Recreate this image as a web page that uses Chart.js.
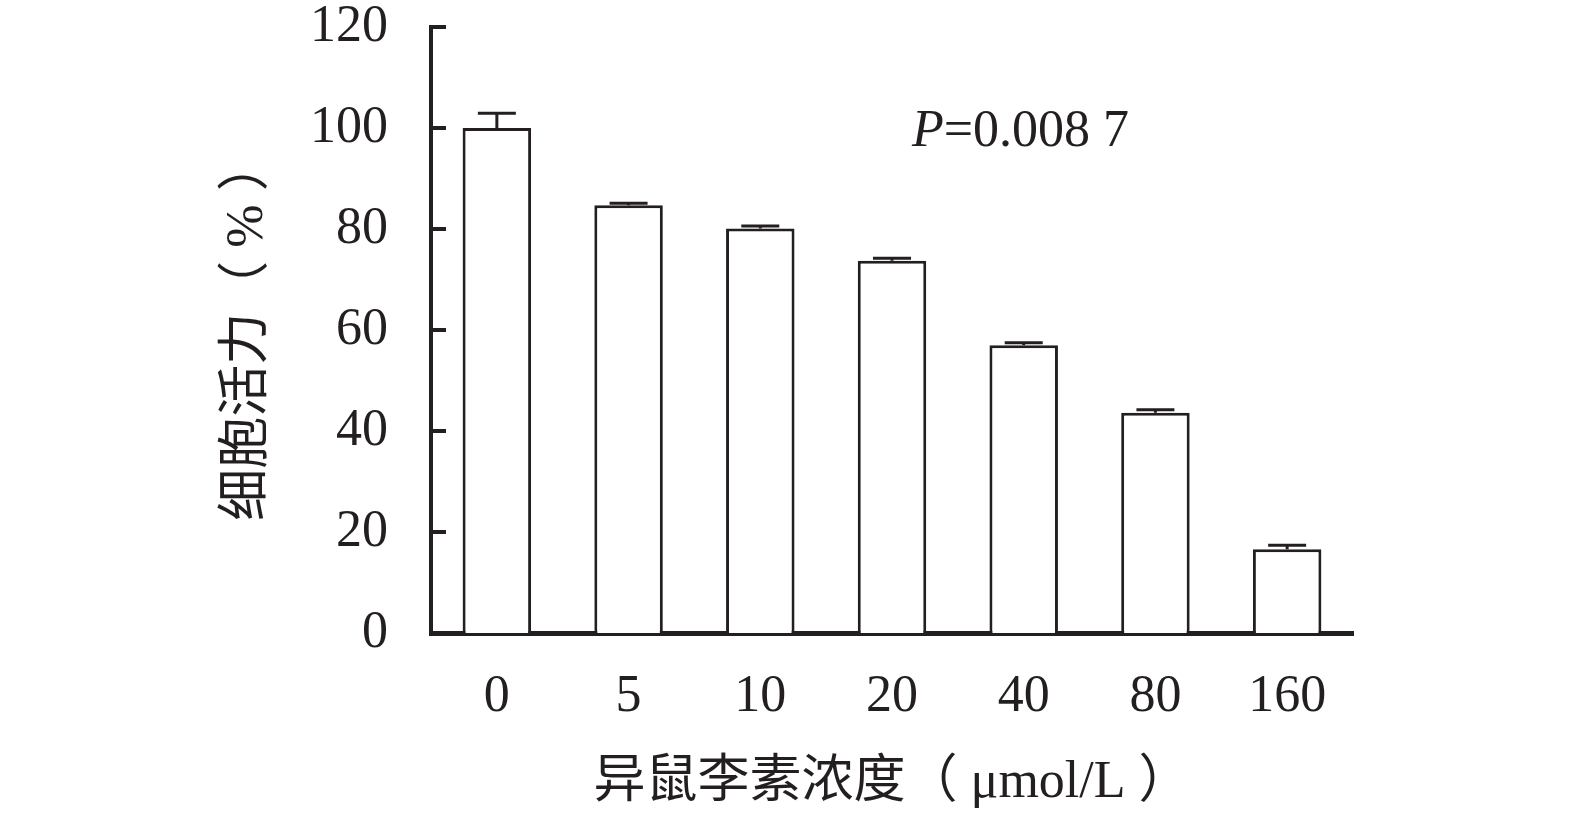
<!DOCTYPE html>
<html lang="zh">

<head>
  <meta charset="UTF-8" />
  <title>细胞活力</title>
  <style>
    html, body { margin: 0; padding: 0; background: #fff; }
    #wrap { width: 1575px; height: 817px; }
  </style>
</head>

<body>
  <div id="wrap"><canvas id="myChart" width="1575" height="817"></canvas></div>

  <script src="https://cdn.jsdelivr.net/npm/chart.js"></script>

  <script>
    const concentrations = ["0", "5", "10", "20", "40", "80", "160"];
    const viability = [100.0, 84.7, 80.1, 73.7, 57.0, 43.6, 16.6];
    const errUpper = [2.9, 0.4, 0.5, 0.5, 0.5, 0.6, 0.8];
    const yTicks = [0, 20, 40, 60, 80, 100, 120];
    const pLabel = "=0.008 7";

    const ink = "#231f20";
    const serif = "'Liberation Serif', 'Noto Sans CJK SC', serif";

    // error bars (upper only), inward y ticks, P value
    const extras = {
      id: "extras",
      afterDatasetsDraw(chart) {
        const { ctx, scales: { x, y } } = chart;
        ctx.save();
        ctx.strokeStyle = ink;
        ctx.lineWidth = 3;
        viability.forEach((v, i) => {
          const cx = x.getPixelForValue(i);
          const y0 = y.getPixelForValue(v);
          const y1 = y.getPixelForValue(v + errUpper[i]);
          ctx.beginPath();
          ctx.moveTo(cx, y0);
          ctx.lineTo(cx, y1);
          ctx.moveTo(cx - 19, y1);
          ctx.lineTo(cx + 19, y1);
          ctx.stroke();
        });
        ctx.restore();
      },
      afterDraw(chart) {
        const { ctx, chartArea, scales: { x, y } } = chart;
        ctx.save();
        ctx.strokeStyle = ink;
        ctx.lineWidth = 4;
        yTicks.forEach((t) => {
          const py = y.getPixelForValue(t);
          ctx.beginPath();
          ctx.moveTo(chartArea.left, py);
          ctx.lineTo(chartArea.left + 15, py);
          ctx.stroke();
        });
        ctx.fillStyle = ink;
        ctx.textBaseline = "alphabetic";
        const px = x.getPixelForValue(3) + 20;
        const py = y.getPixelForValue(96.4);
        ctx.font = "italic 52px " + serif;
        ctx.fillText("P", px, py);
        const w = ctx.measureText("P").width;
        ctx.font = "52px " + serif;
        ctx.fillText(pLabel, px + w, py);
        ctx.restore();
      },
    };

    new Chart(document.getElementById("myChart"), {
      type: "bar",
      data: {
        labels: concentrations,
        datasets: [
          {
            data: viability,
            backgroundColor: "#ffffff",
            borderColor: ink,
            borderWidth: 3,
            barPercentage: 0.52,
            categoryPercentage: 1,
          },
        ],
      },
      options: {
        responsive: false,
        animation: false,
        layout: { padding: { top: 27, right: 222, left: 0, bottom: 0 } },
        plugins: { legend: { display: false }, tooltip: { enabled: false } },
        scales: {
          x: {
            z: 1,
            grid: { display: false, drawTicks: false },
            border: { display: true, color: ink, width: 5 },
            ticks: { color: ink, font: { family: serif, size: 52, lineHeight: 1 }, padding: 38, maxRotation: 0 },
            title: {
              display: true,
              text: "异鼠李素浓度（ μmol/L ）",
              color: ink,
              font: { family: serif, size: 52, lineHeight: 1 },
              padding: { top: 0, bottom: 8 },
            },
            afterFit: (s) => { s.height = 184; s.paddingLeft = 0; s.paddingRight = 0; },
          },
          y: {
            z: 1,
            min: 0,
            max: 120,
            grid: { display: false, drawTicks: false },
            border: { display: true, color: ink, width: 4 },
            ticks: { stepSize: 20, color: ink, font: { family: serif, size: 52, lineHeight: 1 }, padding: 43 },
            title: {
              display: true,
              text: "细胞活力（ % ）",
              color: ink,
              font: { family: serif, size: 52, lineHeight: 1 },
              padding: { top: 222, bottom: 0 },
            },
            afterFit: (s) => { s.width = 431; s.paddingTop = 0; s.paddingBottom = 0; },
          },
        },
      },
      plugins: [extras],
    });
  </script>
</body>

</html>
